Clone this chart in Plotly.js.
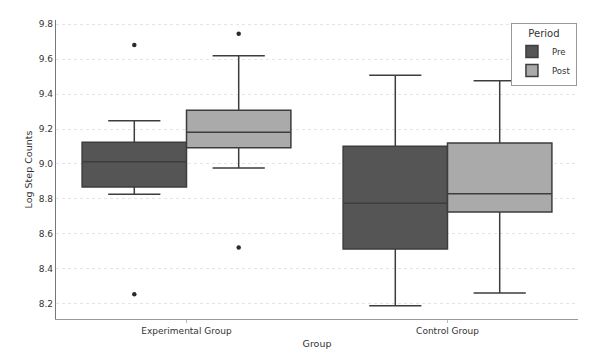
<!DOCTYPE html>
<html>
<head>
<meta charset="utf-8">
<script src="https://cdn.plot.ly/plotly-3.0.1.min.js"></script>
<style>html,body{margin:0;padding:0;background:#fff;}#chart{width:600px;height:349px;}</style>
</head>
<body>
<div id="chart"></div>
<script>
const groups = ["Experimental Group", "Control Group"];
const periods = ["Pre", "Post"];
// per period: values for [Experimental, Control]
const lowerWhisker = { Pre: [8.827, 8.190], Post: [8.977, 8.263] };
const q1Vals       = { Pre: [8.869, 8.514], Post: [9.093, 8.726] };
const medianVals   = { Pre: [9.013, 8.775], Post: [9.181, 8.830] };
const q3Vals       = { Pre: [9.124, 9.101], Post: [9.307, 9.120] };
const upperWhisker = { Pre: [9.247, 9.507], Post: [9.619, 9.476] };
const outliers     = { Pre: [[9.68, 8.255], []], Post: [[9.745, 8.522], []] };

const colors = { Pre: "#555555", Post: "#aaaaaa" };
const edge = "#3d3d3d";
const boxW = 0.4;
const offsets = { Pre: -0.2, Post: 0.2 };

const traces = [];
periods.forEach(p => {
  const xs = groups.map((g, i) => i + offsets[p]);
  traces.push({
    type: "box",
    name: p,
    x: xs,
    q1: q1Vals[p],
    median: medianVals[p],
    q3: q3Vals[p],
    lowerfence: lowerWhisker[p],
    upperfence: upperWhisker[p],
    width: boxW,
    whiskerwidth: 0.5,
    fillcolor: colors[p],
    line: { color: edge, width: 1.5 },
    boxpoints: false,
    hoverinfo: "skip",
    showlegend: true
  });
});
periods.forEach(p => {
  const ox = [], oy = [];
  outliers[p].forEach((arr, i) => arr.forEach(v => { ox.push(i + offsets[p]); oy.push(v); }));
  traces.push({
    type: "scatter", mode: "markers", x: ox, y: oy,
    marker: { color: "#2b2b2b", size: 4.5 },
    showlegend: false, hoverinfo: "skip"
  });
});

const ff = "DejaVu Sans, sans-serif";
const layout = {
  width: 600, height: 349,
  margin: { l: 56, r: 22, t: 20, b: 30 },
  paper_bgcolor: "#fff", plot_bgcolor: "#fff",
  font: { family: ff, size: 9, color: "#333" },
  boxmode: "overlay",
  xaxis: {
    range: [-0.5, 1.5],
    tickvals: groups.map((g, i) => i),
    ticktext: groups,
    ticks: "outside", ticklen: 3, tickcolor: "#bbb",
    showgrid: false, zeroline: false,
    showline: true, linecolor: "#999", linewidth: 1.2,
    title: { text: "Group", font: { family: ff, size: 9.5, color: "#333" }, standoff: 6 },
    tickfont: { family: ff, size: 9, color: "#333" }
  },
  yaxis: {
    range: [8.114, 9.823],
    dtick: 0.2, tick0: 8.2, tickformat: ".1f",
    ticks: "", showgrid: true, gridcolor: "#dedede", griddash: "dot", gridwidth: 0.8,
    zeroline: false, showline: true, linecolor: "#777", linewidth: 1.2,
    title: { text: "Log Step Counts", font: { family: ff, size: 9.5, color: "#333" }, standoff: 4 },
    tickfont: { family: ff, size: 9, color: "#333" }
  },
  legend: {
    title: { text: "Period", font: { family: ff, size: 10, color: "#333" }, side: "top center" },
    x: 0.998, xanchor: "right", y: 0.99, yanchor: "top",
    bgcolor: "#fff", bordercolor: "#999", borderwidth: 1,
    font: { family: ff, size: 8.5, color: "#333" },
    itemwidth: 30, tracegroupgap: 0
  }
};

Plotly.newPlot("chart", traces, layout, { displayModeBar: false, staticPlot: true });
</script>
</body>
</html>
